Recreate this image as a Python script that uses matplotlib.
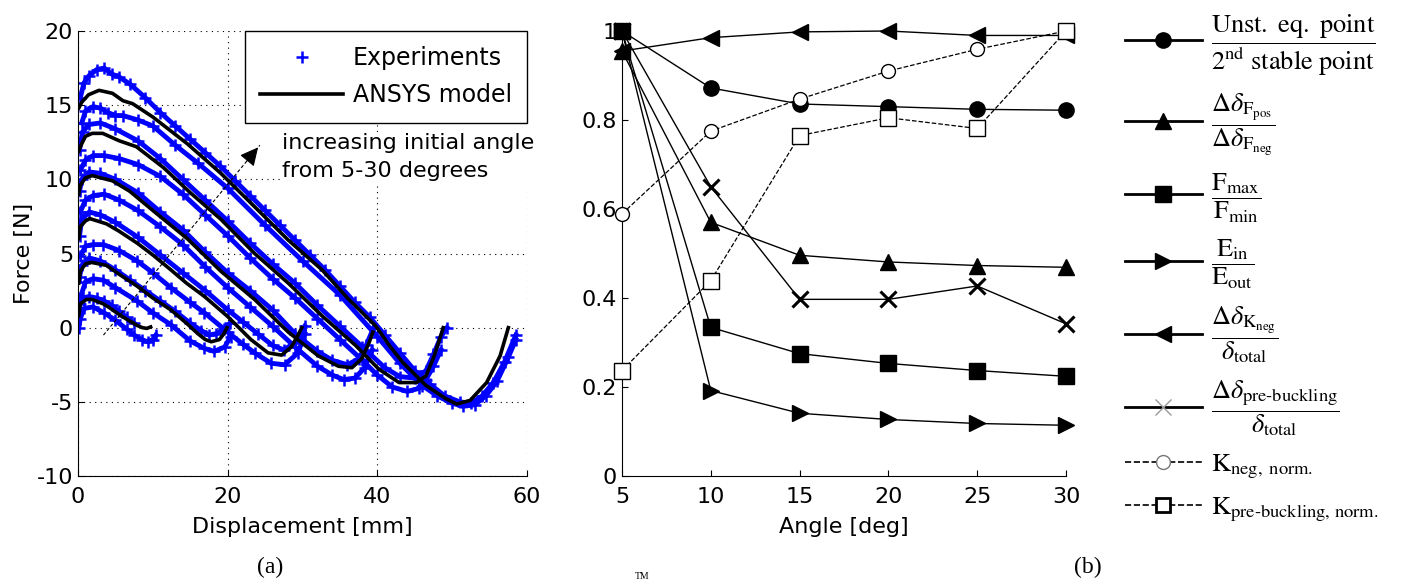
import matplotlib
matplotlib.use('Agg')
import matplotlib.pyplot as plt
from matplotlib.lines import Line2D

plt.rcParams['font.family'] = 'DejaVu Sans'
plt.rcParams['mathtext.fontset'] = 'stix'
plt.rcParams['axes.unicode_minus'] = False

# ---- (a) force-displacement curves, one per initial angle ----
model_x = {
    5: [0.1, 0.3, 1.1, 1.9, 3.4, 4.2, 5.6, 6.4, 7.9, 8.6, 9.2, 9.7],
    10: [0.1, 0.3, 1.0, 1.8, 3.8, 5.5, 7.9, 10, 12.4, 14.5, 16.0, 17.0, 17.8, 18.9, 19.5, 19.9],
    15: [0.1, 0.3, 1.0, 1.6, 3.8, 5.5, 7.9, 10, 12.4, 14.5, 16.9, 20.0, 23.1, 25.4, 27.2, 28.5, 29.3, 29.9],
    20: [0.1, 0.3, 1.0, 1.9, 4.6, 6.9, 10, 14.6, 19.1, 23.6, 28.1, 32.1, 34.8, 36.6, 37.9, 38.9, 39.4],
    25: [0.1, 0.5, 1.0, 1.9, 3.3, 5.5, 7.8, 11.4, 15.0, 19.1, 23.6, 28.1, 32.6, 37.1, 40.2, 42.9, 45.2,
         46.5, 47.6, 48.8],
    30: [0.1, 0.5, 1.4, 2.8, 4.6, 6.0, 7.3, 10.0, 14.6, 19.1, 23.1, 28.1, 32.6, 36.0, 39.8, 41.6, 43.4,
         46.5, 49.2, 50.6, 52.4, 54.6, 56.4, 57.5],
}
model_y = {
    5: [0.8, 1.6, 1.9, 1.9, 1.6, 1.35, 0.85, 0.6, 0.15, 0.0, -0.05, 0.05],
    10: [3.0, 3.8, 4.3, 4.4, 4.2, 3.6, 2.8, 2.0, 1.2, 0.3, -0.4, -0.8, -0.95, -0.8, -0.4, 0.0],
    15: [6.0, 6.8, 7.2, 7.35, 7.0, 6.5, 5.7, 4.9, 3.9, 3.0, 2.1, 0.75, -0.8, -1.7, -1.85, -1.3, -0.6, 0.0],
    20: [9.0, 9.6, 10.1, 10.25, 9.9, 9.2, 7.9, 6.0, 3.8, 1.9, -0.3, -1.9, -2.6, -2.7, -2.1, -1.0, -0.3],
    25: [11.9, 12.4, 12.9, 13.1, 13.1, 12.6, 12.2, 10.8, 9.1, 7.3, 5.0, 3.0, 0.8, -1.2, -2.8, -3.7, -3.7,
         -3.25, -1.9, 0.0],
    30: [14.8, 15.2, 15.7, 16.0, 15.8, 15.3, 15.1, 14.2, 12.4, 10.4, 8.4, 5.9, 3.9, 2.0, 0.1, -1.2, -2.35,
         -3.9, -4.8, -5.15, -4.9, -3.7, -1.9, 0.0],
}

# measured points, upper and lower band of each test
exp_hi_x = {
    5: [0.2, 0.6, 1.5, 2.5, 3.5, 4.5, 5.5, 6.5, 7.5],
    10: [0.2, 0.5, 1.5, 3.0, 5.0, 7.0, 9.0, 11.0, 13.0, 15.0, 16.5, 17.5, 18.5, 19.5, 20.3],
    15: [0.2, 0.5, 1.5, 3.0, 5.0, 8.0, 11.0, 14.0, 17.0, 20.0, 22.0, 24.0, 26.0, 27.5, 29.0, 30.3],
    20: [0.2, 0.5, 1.5, 3.0, 5.0, 8.0, 11.0, 14.0, 17.0, 20.0, 23.0, 26.0, 29.0, 32.0, 34.0, 36.0, 37.5,
         38.5, 39.5],
    25: [0.2, 0.6, 1.5, 3, 5, 8, 11, 14, 17, 20, 23, 26, 29, 32, 35, 38, 41, 43, 45, 46.5, 47.5, 48.5, 49.3],
    30: [0.3, 0.8, 1.5, 2.5, 3.5, 4.5, 5.5, 7, 9, 11, 13, 15, 17, 19, 21, 23, 25, 27, 29, 31, 33, 35, 37,
         39, 41, 43, 45, 47, 49, 51, 52.5, 54, 55.5, 57, 58.5],
}
exp_hi_y = {
    5: [1.6, 2.0, 2.1, 2.0, 1.8, 1.5, 1.1, 0.7, 0.3],
    10: [3.4, 4.2, 4.7, 4.5, 3.9, 3.2, 2.5, 1.8, 1.1, 0.3, -0.2, -0.5, -0.4, -0.1, 0.3],
    15: [6.2, 7.3, 7.8, 7.6, 7.1, 6.1, 4.9, 3.7, 2.5, 1.2, 0.4, -0.4, -1.2, -1.5, -1.0, 0.1],
    20: [9.2, 10.0, 10.5, 10.4, 10.0, 9.1, 7.8, 6.6, 5.1, 3.7, 2.5, 1.2, -0.4, -1.6, -2.2, -2.5, -2.1,
         -1.2, 0.0],
    25: [12.0, 13.2, 13.7, 13.8, 13.4, 12.6, 11.4, 10.0, 8.6, 7.2, 5.7, 4.3, 3.0, 1.5, 0.1, -1.3, -2.7,
         -3.3, -3.4, -2.9, -1.8, -0.6, 0.0],
    30: [15.5, 16.5, 17.0, 17.4, 17.5, 17.1, 16.9, 16.4, 15.5, 14.5, 13.6, 12.7, 11.8, 10.9, 9.9, 8.9, 7.9,
         6.9, 5.9, 4.9, 3.9, 2.8, 1.7, 0.7, -0.5, -1.7, -2.9, -3.8, -4.6, -5.0, -5.1, -4.6, -3.7, -2.3, -0.5],
}
exp_lo_x = {
    5: [0.1, 0.3, 0.8, 2.0, 3.5, 5.0, 6.5, 7.5, 8.5, 9.3, 10.0, 10.4],
    10: [0.3, 1.0, 2.0, 3.4, 5.0, 7.9, 10.0, 12.4, 15.0, 16.9, 18.2, 19.6, 20.4],
    15: [0.3, 1.0, 2.0, 3.4, 5.5, 7.9, 10.0, 12.4, 15.0, 16.9, 20.0, 22.0, 23.6, 25.8, 27.6, 29.4, 30.3],
    20: [0.3, 1.0, 2.0, 3.5, 5.5, 8.0, 11.0, 14.0, 17.0, 20.0, 23.0, 26.0, 29.0, 32.0, 34.0, 35.5, 37.0,
         38.3, 39.3],
    25: [0.3, 1, 2, 3.5, 5.5, 8, 11, 14, 17, 20, 23, 26, 29, 32, 35, 38, 40, 42, 44, 45.5, 46.5, 47.5, 48.5],
    30: [0.5, 1, 2, 3, 4, 5, 6, 8, 10, 13, 16, 20, 25, 30, 35, 40, 43, 46, 48, 50, 51.5, 53, 54.5, 56,
         57.5, 58.5],
}
exp_lo_y = {
    5: [0.0, 0.6, 1.3, 1.4, 1.0, 0.5, -0.1, -0.5, -0.8, -0.95, -0.8, -0.5],
    10: [2.0, 3.1, 3.3, 3.2, 2.7, 1.8, 1.0, 0.2, -0.9, -1.4, -1.6, -1.3, -0.6],
    15: [4.8, 5.5, 5.6, 5.6, 5.2, 4.5, 3.7, 2.7, 1.7, 1.0, -0.3, -1.1, -1.7, -2.4, -2.5, -1.7, -0.4],
    20: [7.8, 8.6, 8.9, 9.0, 8.6, 7.9, 6.8, 5.6, 4.1, 2.7, 1.4, 0.1, -1.3, -2.6, -3.2, -3.5, -3.4,
         -2.7, -1.5],
    25: [10.6, 11.3, 11.6, 11.6, 11.4, 11.0, 10.2, 9.0, 7.6, 6.2, 4.7, 3.3, 2.0, 0.6, -0.8, -2.2, -3.2,
         -4.0, -4.3, -4.1, -3.5, -2.6, -1.5],
    30: [13.8, 14.6, 14.9, 14.8, 14.5, 14.3, 14.3, 14.0, 13.6, 12.3, 11.1, 9.4, 6.9, 4.5, 2.2, -0.6, -2.4,
         -3.9, -4.6, -5.1, -5.3, -5.2, -4.6, -3.6, -2.0, -0.8],
}

arrow_start = (3.4, -0.5)
arrow_end = (24.3, 12.3)

# ---- (b) normalised quantities versus angle ----
angles = [5, 10, 15, 20, 25, 30]
unst_ratio = [1.0, 0.872, 0.836, 0.830, 0.824, 0.822]
dF_ratio = [0.955, 0.570, 0.496, 0.481, 0.473, 0.469]
F_ratio = [1.0, 0.334, 0.275, 0.253, 0.237, 0.224]
E_ratio = [1.0, 0.192, 0.141, 0.127, 0.118, 0.114]
dK_ratio = [0.955, 0.985, 0.998, 1.0, 0.99, 0.99]
pre_ratio = [1.0, 0.650, 0.397, 0.397, 0.427, 0.342]
K_neg = [0.589, 0.775, 0.847, 0.910, 0.959, 1.0]
K_pre = [0.237, 0.439, 0.765, 0.805, 0.781, 1.0]

labels_b = [
    r'$\dfrac{\mathrm{Unst.\ eq.\ point}}{2^{\mathrm{nd}}\ \mathrm{stable\ point}}$',
    r'$\dfrac{\Delta\delta_{\mathrm{F}_{\mathrm{pos}}}}{\Delta\delta_{\mathrm{F}_{\mathrm{neg}}}}$',
    r'$\dfrac{\mathrm{F}_{\mathrm{max}}}{\mathrm{F}_{\mathrm{min}}}$',
    r'$\dfrac{\mathrm{E}_{\mathrm{in}}}{\mathrm{E}_{\mathrm{out}}}$',
    r'$\dfrac{\Delta\delta_{\mathrm{K}_{\mathrm{neg}}}}{\delta_{\mathrm{total}}}$',
    r'$\dfrac{\Delta\delta_{\text{pre-buckling}}}{\delta_{\mathrm{total}}}$',
    r'$\mathrm{K}_{\mathrm{neg,\ norm.}}$',
    r'$\mathrm{K}_{\text{pre-buckling, norm.}}$',
]

fig = plt.figure(figsize=(14.21, 5.86), dpi=100)
ax1 = fig.add_axes([0.0549, 0.1877, 0.316, 0.7594])
ax2 = fig.add_axes([0.4377, 0.1877, 0.3125, 0.7594])

blue = '#0000ff'
for a in model_x:
    for ex, ey in ((exp_hi_x[a], exp_hi_y[a]), (exp_lo_x[a], exp_lo_y[a])):
        ax1.plot(ex, ey, '-', color=blue, lw=3.5, zorder=2)
        ax1.plot(ex, ey, '+', color=blue, ms=8, mew=1.8, zorder=2)
for a in model_x:
    ax1.plot(model_x[a], model_y[a], '-', color='k', lw=2.6, zorder=3)

ax1.plot([arrow_start[0], arrow_end[0]], [arrow_start[1], arrow_end[1]], color='k', lw=0.8,
         ls=(0, (3, 2)), zorder=4)
ax1.annotate('', xy=arrow_end, xytext=(arrow_end[0] - 2.0, arrow_end[1] - 1.22),
             arrowprops=dict(arrowstyle='-|>', color='k', lw=0.8, mutation_scale=28), zorder=4)
ax1.text(27.2, 11.5, 'increasing initial angle\nfrom 5-30 degrees', fontsize=16, ha='left', va='center',
         linespacing=1.45, bbox=dict(facecolor='white', edgecolor='none', pad=1), zorder=5)

ax1.set_xlim(0, 60)
ax1.set_ylim(-10, 20)
ax1.set_xticks([0, 20, 40, 60])
ax1.set_yticks([-10, -5, 0, 5, 10, 15, 20])
ax1.grid(True, color='k', ls=(0, (1, 4)), lw=0.8)
for s in ('top', 'right'):
    ax1.spines[s].set_visible(False)
ax1.tick_params(direction='in', labelsize=16, length=4)
ax1.tick_params(axis='x', pad=8)
ax1.set_xlabel('Displacement [mm]', fontsize=16, labelpad=7)
ax1.set_ylabel('Force [N]', fontsize=16, labelpad=2)
leg1 = ax1.legend(handles=[Line2D([], [], ls='none', marker='+', color=blue, ms=8, mew=1.8),
                           Line2D([], [], color='k', lw=2.6)],
                  labels=['Experiments', 'ANSYS model'], loc='upper right', borderaxespad=0,
                  fancybox=False, edgecolor='k', framealpha=1, fontsize=17, handlelength=3.5,
                  handletextpad=0.4, borderpad=0.65, labelspacing=0.55)
leg1.get_frame().set_linewidth(1.0)
leg1.set_zorder(6)

mk = dict(color='k', lw=1.0, ms=11, clip_on=False, zorder=3)
ax2.plot(angles, unst_ratio, marker='o', **mk)
ax2.plot(angles, dF_ratio, marker='^', **mk)
ax2.plot(angles, F_ratio, marker='s', **mk)
ax2.plot(angles, E_ratio, marker='>', **mk)
ax2.plot(angles, dK_ratio, marker='<', **mk)
ax2.plot(angles, pre_ratio, marker='x', mew=2.2, **mk)
ax2.plot(angles, K_neg, marker='o', ls='--', mfc='white', mec='k', color='k', lw=0.9, ms=10,
         clip_on=False, zorder=3)
ax2.plot(angles, K_pre, marker='s', ls='--', mfc='white', mec='k', color='k', lw=0.9, ms=11,
         clip_on=False, zorder=3)

ax2.set_xlim(5, 30)
ax2.set_ylim(0, 1)
ax2.set_xticks(angles)
ax2.set_yticks([0, 0.2, 0.4, 0.6, 0.8, 1])
ax2.set_yticklabels(['0', '0.2', '0.4', '0.6', '0.8', '1'])
for s in ('top', 'right'):
    ax2.spines[s].set_visible(False)
ax2.tick_params(direction='in', labelsize=16, length=4)
ax2.tick_params(axis='x', pad=8)
ax2.set_xlabel('Angle [deg]', fontsize=16, labelpad=7)

handles_b = [
    Line2D([], [], color='k', lw=2.0, marker='o', ms=11),
    Line2D([], [], color='k', lw=2.0, marker='^', ms=11),
    Line2D([], [], color='k', lw=2.0, marker='s', ms=11),
    Line2D([], [], color='k', lw=2.0, marker='>', ms=11),
    Line2D([], [], color='k', lw=2.0, marker='<', ms=11),
    Line2D([], [], color='k', lw=2.0, marker='x', ms=11, mec='#999999', mew=1.0),
    Line2D([], [], color='k', lw=1.2, ls='--', marker='o', ms=10, mfc='white', mec='#777777'),
    Line2D([], [], color='k', lw=1.2, ls='--', marker='s', ms=10, mfc='white', mec='k', mew=2),
]
fig.legend(handles=handles_b, labels=labels_b, loc='upper left', bbox_to_anchor=(0.7825, 1.0),
           frameon=False, fontsize=19, handlelength=2.9, handletextpad=0.35, labelspacing=0.5,
           borderpad=0)

fig.text(0.19, 0.031, '(a)', fontsize=17, family='Liberation Serif', ha='center', va='center')
fig.text(0.7657, 0.031, '(b)', fontsize=17, family='Liberation Serif', ha='center', va='center')
fig.text(0.452, 0.008, 'TM', fontsize=7, family='Liberation Serif', ha='center', va='bottom')

fig.savefig('out.png', dpi=100)
